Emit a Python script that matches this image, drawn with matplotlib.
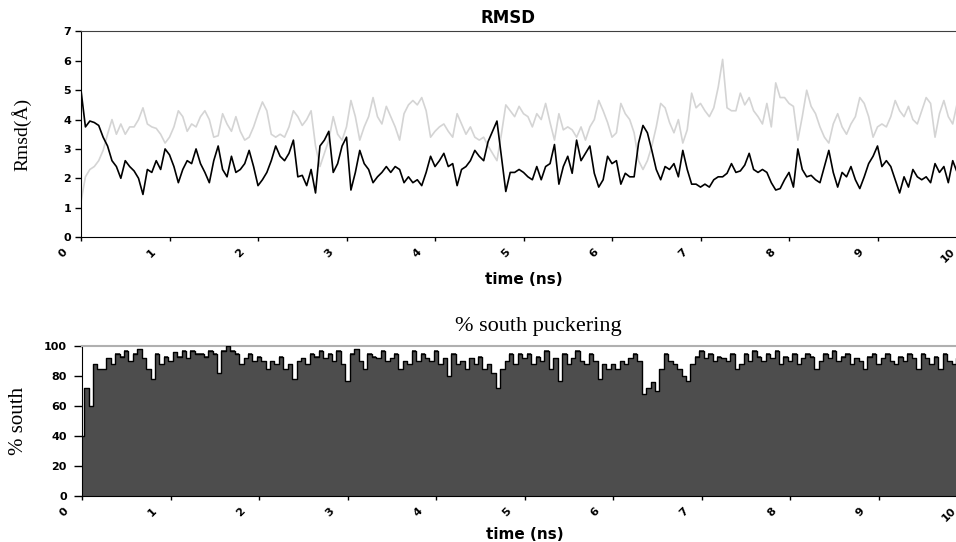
import numpy as np
import matplotlib.pyplot as plt
from matplotlib.transforms import ScaledTranslation

# time axis, one sample every 0.05 ns
time_ns = np.linspace(0, 10, 201)

# RMSD, black trace (rows of 0.5 ns)
rmsd_black = [
    5.0, 3.75, 3.95, 3.9, 3.8, 3.4, 3.1, 2.6, 2.4, 2.0,
    2.6, 2.4, 2.25, 2.0, 1.45, 2.3, 2.2, 2.6, 2.3, 3.0,
    2.8, 2.4, 1.85, 2.3, 2.6, 2.5, 3.0, 2.5, 2.2, 1.85,
    2.6, 3.1, 2.3, 2.05, 2.75, 2.2, 2.3, 2.5, 2.95, 2.4,
    1.75, 1.95, 2.2, 2.6, 3.1, 2.75, 2.6, 2.85, 3.3, 2.05,
    2.1, 1.75, 2.3, 1.5, 3.1, 3.3, 3.6, 2.2, 2.5, 3.1,
    3.4, 1.6, 2.2, 2.95, 2.5, 2.3, 1.85, 2.05, 2.2, 2.4,
    2.2, 2.4, 2.3, 1.85, 2.05, 1.85, 1.95, 1.75, 2.2, 2.75,
    2.4, 2.6, 2.85, 2.4, 2.5, 1.75, 2.3, 2.4, 2.6, 2.95,
    2.75, 2.6, 3.25, 3.6, 3.95, 2.75, 1.55, 2.2, 2.2, 2.3,
    2.2, 2.05, 1.95, 2.4, 1.95, 2.4, 2.5, 3.15, 1.8, 2.4,
    2.75, 2.17, 3.3, 2.6, 2.85, 3.1, 2.17, 1.7, 1.95, 2.75,
    2.5, 2.6, 1.8, 2.17, 2.05, 2.05, 3.2, 3.8, 3.55, 2.95,
    2.3, 1.95, 2.4, 2.3, 2.5, 2.05, 2.95, 2.3, 1.8, 1.8,
    1.7, 1.8, 1.7, 1.95, 2.05, 2.05, 2.17, 2.5, 2.2, 2.25,
    2.45, 2.85, 2.3, 2.2, 2.3, 2.2, 1.85, 1.6, 1.65, 1.95,
    2.2, 1.7, 3.0, 2.3, 2.05, 2.1, 1.95, 1.85, 2.4, 2.95,
    2.2, 1.7, 2.2, 2.05, 2.4, 1.95, 1.65, 2.05, 2.5, 2.75,
    3.1, 2.4, 2.6, 2.4, 1.95, 1.5, 2.05, 1.7, 2.3, 2.05,
    1.95, 2.05, 1.85, 2.5, 2.2, 2.4, 1.85, 2.6, 2.2, 2.3,
    2.1,
]

# RMSD, light grey trace
rmsd_grey = [
    1.2, 2.05, 2.3, 2.4, 2.6, 2.95, 3.5, 4.0, 3.5, 3.85,
    3.5, 3.75, 3.75, 4.0, 4.4, 3.85, 3.75, 3.7, 3.5, 3.2,
    3.4, 3.75, 4.3, 4.1, 3.6, 3.85, 3.75, 4.1, 4.3, 4.0,
    3.4, 3.45, 4.2, 3.85, 3.6, 4.1, 3.6, 3.3, 3.4, 3.75,
    4.2, 4.6, 4.3, 3.5, 3.4, 3.5, 3.4, 3.75, 4.3, 4.1,
    3.8, 4.0, 4.3, 3.1, 2.4, 2.85, 3.3, 4.1, 3.5, 3.3,
    3.75, 4.65, 4.1, 3.3, 3.75, 4.1, 4.75, 4.1, 3.85, 4.45,
    4.1, 3.75, 3.3, 4.2, 4.5, 4.65, 4.5, 4.75, 4.3, 3.4,
    3.6, 3.75, 3.85, 3.6, 3.4, 4.2, 3.85, 3.5, 3.75, 3.4,
    3.3, 3.4, 3.1, 2.85, 2.6, 3.5, 4.5, 4.3, 4.1, 4.45,
    4.2, 4.1, 3.75, 4.2, 4.0, 4.55, 3.9, 3.3, 4.2, 3.65,
    3.75, 3.65, 3.4, 3.75, 3.3, 3.75, 4.0, 4.65, 4.3, 3.9,
    3.4, 3.55, 4.55, 4.2, 4.0, 3.55, 2.6, 2.3, 2.6, 3.1,
    3.75, 4.55, 4.4, 3.9, 3.55, 4.0, 3.2, 3.65, 4.9, 4.4,
    4.55, 4.3, 4.1, 4.4, 5.1, 6.05, 4.4, 4.3, 4.3, 4.9,
    4.5, 4.75, 4.3, 4.1, 3.85, 4.55, 3.75, 5.25, 4.75, 4.75,
    4.55, 4.45, 3.3, 4.1, 5.0, 4.45, 4.2, 3.75, 3.4, 3.2,
    3.85, 4.2, 3.75, 3.5, 3.85, 4.1, 4.75, 4.55, 4.1, 3.4,
    3.75, 3.85, 3.75, 4.1, 4.65, 4.3, 4.1, 4.45, 4.0, 3.85,
    4.3, 4.75, 4.55, 3.4, 4.2, 4.65, 4.1, 3.85, 4.55, 4.1,
    4.2,
]

# % south puckering
south_pct = [
    40, 72, 60, 88, 85, 85, 92, 88, 95, 93,
    97, 90, 95, 98, 92, 85, 78, 95, 88, 93,
    90, 96, 93, 97, 92, 97, 95, 95, 93, 97,
    95, 82, 97, 100, 97, 95, 88, 92, 95, 90,
    93, 90, 85, 90, 88, 93, 85, 88, 78, 90,
    92, 88, 95, 93, 97, 92, 95, 90, 97, 88,
    77, 95, 98, 90, 85, 95, 93, 92, 97, 90,
    92, 95, 85, 90, 88, 97, 90, 95, 92, 90,
    97, 88, 92, 80, 95, 88, 90, 85, 92, 88,
    93, 85, 88, 82, 72, 85, 90, 95, 88, 95,
    92, 95, 88, 93, 90, 97, 85, 92, 77, 95,
    88, 92, 97, 90, 88, 95, 90, 78, 88, 85,
    88, 85, 90, 88, 92, 95, 90, 68, 72, 76,
    70, 85, 95, 90, 88, 85, 80, 77, 88, 93,
    97, 92, 95, 90, 93, 92, 90, 95, 85, 88,
    95, 90, 97, 93, 90, 95, 92, 97, 88, 93,
    90, 95, 88, 92, 95, 93, 85, 90, 95, 92,
    97, 90, 93, 95, 88, 92, 90, 85, 93, 95,
    88, 92, 95, 90, 88, 93, 90, 95, 92, 85,
    95, 92, 88, 93, 85, 95, 90, 88, 92, 90,
    93,
]

xticks = list(range(11))

fig = plt.figure(figsize=(9.56, 5.42), dpi=100)
W, H = 956.0, 542.0

# ---- top panel: RMSD
ax1 = fig.add_axes([81 / W, (H - 237) / H, 885 / W, 205.5 / H])
ax1.plot(time_ns, rmsd_grey, color='#d4d4d4', lw=1.2, zorder=2)
ax1.plot(time_ns, rmsd_black, color='black', lw=1.2, zorder=3)
ax1.set_xlim(0, 10)
ax1.set_ylim(0, 7)
ax1.set_xticks(xticks)
ax1.set_yticks(range(8))
ax1.spines['right'].set_visible(False)
ax1.spines['top'].set_color('#404040')
ax1.tick_params(axis='y', direction='out', length=4, width=1, pad=3, labelsize=8)
ax1.tick_params(axis='x', direction='out', length=3, width=1, pad=4, labelsize=8)
ax1.set_title('RMSD', fontsize=12, fontweight='bold', x=(508 - 81) / 885, pad=6)
ax1.set_xlabel('time (ns)', fontsize=11, fontweight='bold')
ax1.xaxis.set_label_coords(0.5, -(272 - 237) / 205.5)
ax1.set_ylabel('Rmsd(Å)', family='Liberation Serif', fontsize=14)
ax1.yaxis.set_label_coords((31 - 81) / 885, 0.5)

# ---- bottom panel: % south puckering
ax2 = fig.add_axes([82 / W, (H - 496) / H, 885 / W, 150 / H])
ax2.fill_between(time_ns, south_pct, 0, step='mid', color='#4d4d4d', lw=0, zorder=2)
ax2.step(time_ns, south_pct, where='mid', color='black', lw=1.0, zorder=3)
ax2.set_xlim(0, 10)
ax2.set_ylim(0, 100)
ax2.set_xticks(xticks)
ax2.set_yticks(range(0, 101, 20))
ax2.spines['right'].set_visible(False)
ax2.spines['top'].set_color('#b0b0b0')
ax2.spines['top'].set_linewidth(1.5)
ax2.tick_params(axis='y', direction='out', length=6, width=1, pad=5, labelsize=8)
ax2.tick_params(axis='x', direction='out', length=3, width=1, pad=4, labelsize=8)
ax2.set_title('% south puckering', family='Liberation Serif', fontsize=16,
              x=(538 - 82) / 885, pad=11)
ax2.set_xlabel('time (ns)', fontsize=11, fontweight='bold')
ax2.xaxis.set_label_coords(0.5, -(527 - 496) / 150)
ax2.set_ylabel('% south', family='Liberation Serif', fontsize=15)
ax2.yaxis.set_label_coords((28 - 82) / 885, 0.5)

shift = ScaledTranslation(-18 / 100, 0, fig.dpi_scale_trans)
for ax in (ax1, ax2):
    for lab in ax.get_xticklabels():
        lab.set_rotation(45)
        lab.set_fontweight('bold')
        lab.set_transform(lab.get_transform() + shift)
    for lab in ax.get_yticklabels():
        lab.set_fontweight('bold')

fig.savefig('out.png', dpi=100)
